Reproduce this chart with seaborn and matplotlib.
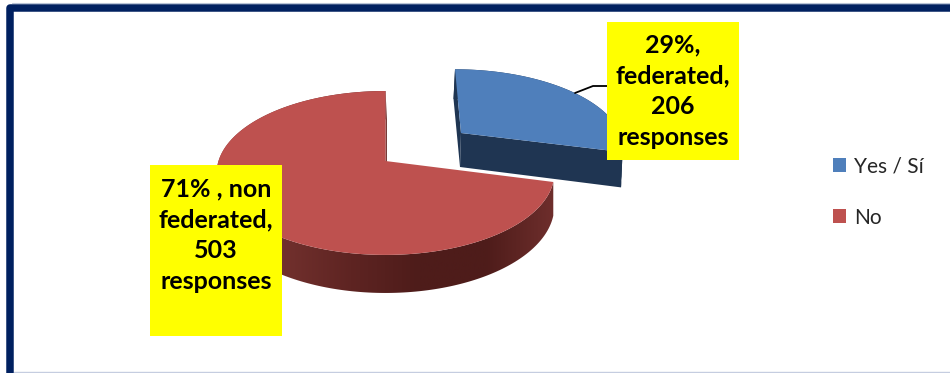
import numpy as np
import matplotlib
matplotlib.use("Agg")
import matplotlib.pyplot as plt
import seaborn as sns
from matplotlib.colors import LinearSegmentedColormap
from matplotlib.patches import Patch, Polygon, Rectangle

# Survey responses
categories = ["Yes / Sí", "No"]
responses = [206, 503]
slice_labels = ["29%,\nfederated,\n206\nresponses", "71% , non\nfederated,\n503\nresponses"]

sns.set_theme(style="white")
plt.rcParams["font.family"] = ["Lato", "DejaVu Sans"]
blue, red = sns.color_palette(["#4F7FBB", "#BE514F"])
blue_side = "#1F3552"
red_side = LinearSegmentedColormap.from_list(
    "red_side", ["#8E3B38", "#71302D", "#5E2422", "#4E1C1A", "#4E1C1A", "#6E2E2C"])

fig = plt.figure(figsize=(9.5, 3.73), dpi=100)
ax = fig.add_axes([0, 0, 1, 1])
ax.set_xlim(0, 950)
ax.set_ylim(373, 0)
ax.axis("off")

# Tilted disc: perspective projection of the unit circle, clockwise from 12 o'clock
TILT = 0.146


def project(theta, radius, x0, y0, ax_a, ax_b, shear=0.0, drop=0.0, lean=0.0):
    u = radius * np.sin(theta)
    v = radius * np.cos(theta)
    den = 1 + TILT * v
    y_top = y0 - ax_b * v / den
    x = x0 + ax_a * u / den + shear * (y_top - y0)
    y = y_top + drop / den
    return np.column_stack([x + lean * drop / 34, y])


fractions = np.array(responses) / sum(responses)
split = 2 * np.pi * fractions[0]

# Exploded blue slice
blue_geo = dict(x0=461, y0=133, ax_a=159, ax_b=73, shear=0.094)
blue_t = np.linspace(0, split, 80)
blue_arc = project(blue_t, 1, **blue_geo)
blue_arc_low = project(blue_t, 1, drop=34, lean=-1.5, **blue_geo)
apex = project(np.array([0.0]), 0, **blue_geo)
apex_low = project(np.array([0.0]), 0, drop=34, lean=-1, **blue_geo)

ax.add_patch(Polygon(np.vstack([blue_arc[:1], apex, apex_low, blue_arc_low[:1]]),
                     fc=blue_side, ec="none", zorder=2))
ax.add_patch(Polygon(np.vstack([blue_arc, blue_arc_low[::-1]]),
                     fc=blue_side, ec="none", zorder=2))
ax.add_patch(Polygon(np.vstack([apex, blue_arc[-1:], blue_arc_low[-1:], apex_low]),
                     fc=blue_side, ec="none", zorder=2))
ax.add_patch(Polygon(np.vstack([apex, blue_arc]), fc=blue, ec="none", zorder=3))

# Large red slice
red_geo = dict(x0=385.5, y0=161, ax_a=167, ax_b=80.2)
red_t = np.linspace(split, 2 * np.pi, 220)
red_arc = project(red_t, 1, **red_geo)
red_arc_low = project(red_t, 1, drop=32.5, **red_geo)
red_apex = project(np.array([0.0]), 0, **red_geo)
back_low = project(np.array([2 * np.pi]), 1, drop=32.5, lean=1.5, **red_geo)
apex_r_low = project(np.array([0.0]), 0, drop=32.5, lean=1.5, **red_geo)

wall = Polygon(np.vstack([red_arc, red_arc_low[::-1]]), fc="none", ec="none")
ax.add_patch(wall)
gradient = ax.imshow(np.linspace(0, 1, 256)[None, :], cmap=red_side, aspect="auto",
                     extent=(216, 554, 373, 0), zorder=4)
gradient.set_clip_path(wall)
ax.set_xlim(0, 950)
ax.set_ylim(373, 0)
ax.add_patch(Polygon(np.vstack([red_arc[-1:], red_apex, apex_r_low, back_low]),
                     fc="#6E2E2C", ec="none", zorder=4))
ax.add_patch(Polygon(np.vstack([red_apex, red_arc]), fc=red, ec="none", zorder=5))

# Callout boxes with their text
ax.add_patch(Rectangle((607, 22), 132, 138, fc="#FFFF00", ec="none", zorder=6))
ax.add_patch(Rectangle((150, 165), 132, 171, fc="#FFFF00", ec="none", zorder=6))
label_style = dict(ha="center", va="center", fontsize=18, fontweight="bold",
                   color="black", linespacing=1.42, zorder=7)
ax.text(673, 91, slice_labels[0], **label_style)
ax.text(216, 235, slice_labels[1], **label_style)

# Leader line from the blue slice to its callout
ax.plot([575, 593, 607], [93, 86, 86], color="black", lw=1.3, zorder=5)

# Legend
handles = [Patch(fc=blue, ec="none"), Patch(fc=red, ec="none")]
ax.legend(handles, categories, loc="center left", bbox_to_anchor=(833 / 950, 1 - 192 / 373),
          frameon=False, fontsize=15, handlelength=0.63, handleheight=0.63,
          handletextpad=0.36, labelspacing=1.5, labelcolor="#262626", borderpad=0, borderaxespad=0)

# Navy frame along the left and top, with a pale rule outside it
ax.plot([12, 950], [3.4, 3.4], color="#B9C4D8", lw=0.8, zorder=1)
ax.plot([14, 950], [372.4, 372.4], color="#C5CDE0", lw=1.0, zorder=1)
ax.plot([10, 10, 950], [373, 7.5, 7.5], color="#002060", lw=5.4,
        solid_joinstyle="round", solid_capstyle="butt", zorder=8)

fig.savefig("out.png", dpi=100)
